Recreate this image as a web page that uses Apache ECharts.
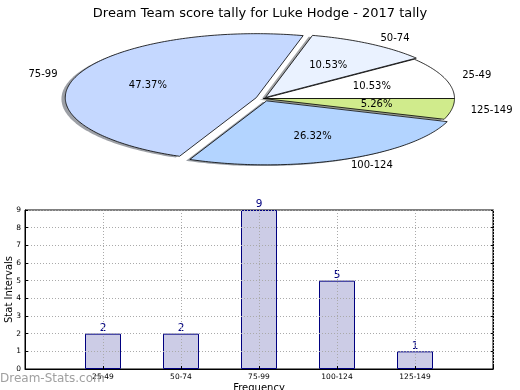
<!DOCTYPE html>
<html>
<head>
<meta charset="utf-8">
<script src="https://cdn.jsdelivr.net/npm/echarts@6/dist/echarts.min.js"></script>
<style>html,body{margin:0;padding:0;background:#fff}#c{width:520px;height:390px}</style>
</head>
<body>
<div id="c"></div>
<script>
const categories = ['25-49', '50-74', '75-99', '100-124', '125-149'];
const counts = [2, 2, 9, 5, 1];
const pieColors = ['#ffffff', '#eaf2ff', '#c5d8ff', '#b3d4ff', '#d0eb8c'];
const explode = [0, 0.02, 0.04, 0.04, 0];
const yTicks = [0, 1, 2, 3, 4, 5, 6, 7, 8, 9];

const FONT = 'DejaVu Sans';
const total = counts.reduce((a, b) => a + b, 0);
const starts = [];
let acc = 0;
counts.forEach(v => { starts.push(acc / total * 360); acc += v; });

function wedgePoints(api, i, ox, oy) {
  const a0 = starts[i], a1 = a0 + counts[i] / total * 360;
  const mid = (a0 + a1) / 2 * Math.PI / 180;
  const cx = explode[i] * Math.cos(mid) + ox, cy = explode[i] * Math.sin(mid) + oy;
  const pts = [api.coord([cx, cy])];
  const n = Math.max(2, Math.ceil(a1 - a0));
  for (let k = 0; k <= n; k++) {
    const a = (a0 + (a1 - a0) * k / n) * Math.PI / 180;
    pts.push(api.coord([cx + Math.cos(a), cy + Math.sin(a)]));
  }
  return { pts, cx, cy, mid };
}

function shade(hex) {
  const r = parseInt(hex.slice(1, 3), 16), g = parseInt(hex.slice(3, 5), 16), b = parseInt(hex.slice(5, 7), 16);
  return 'rgba(' + Math.round(r * 0.3) + ',' + Math.round(g * 0.3) + ',' + Math.round(b * 0.3) + ',0.5)';
}

const pieData = categories.map((c, i) => [i, counts[i]]);

const option = {
  animation: false,
  backgroundColor: '#fff',
  textStyle: { fontFamily: FONT },
  title: {
    text: 'Dream Team score tally for Luke Hodge - 2017 tally',
    left: 'center', top: 2,
    textStyle: { fontFamily: FONT, fontSize: 13, fontWeight: 'normal', color: '#000' }
  },
  grid: [
    { left: 5.65, width: 506.15, top: 15.3, height: 166.4, show: false, outerBoundsMode: 'none', containLabel: false },
    { left: 25, right: 27, top: 210, bottom: 21, show: true, borderColor: '#000', borderWidth: 1, backgroundColor: 'transparent', outerBoundsMode: 'none', containLabel: false }
  ],
  xAxis: [
    { gridIndex: 0, type: 'value', min: -1.35, max: 1.3, show: false },
    {
      gridIndex: 1, type: 'category', data: [''].concat(categories, ['']), boundaryGap: false, z: 3,
      name: 'Frequency', nameLocation: 'middle', nameGap: 14, nameMoveOverlap: false,
      nameTextStyle: { fontFamily: FONT, fontSize: 10, color: '#000' },
      axisLine: { lineStyle: { color: '#000', width: 1 } },
      axisTick: { inside: true, length: 3, lineStyle: { color: '#000' }, interval: 0 },
      axisLabel: { interval: 0, fontSize: 7.5, color: '#000', margin: 4, fontFamily: FONT },
      splitLine: { show: true, interval: 0, lineStyle: { color: '#aaa', type: [1, 2], width: 1 } }
    }
  ],
  yAxis: [
    { gridIndex: 0, type: 'value', min: -1.3, max: 1.3, show: false },
    {
      gridIndex: 1, type: 'value', min: yTicks[0], max: yTicks[yTicks.length - 1], interval: 1, z: 3,
      name: 'Stat Intervals', nameLocation: 'middle', nameGap: 11, nameRotate: 90, nameMoveOverlap: false,
      nameTextStyle: { fontFamily: FONT, fontSize: 10, color: '#000' },
      axisLine: { show: true, lineStyle: { color: '#000', width: 1 } },
      axisTick: { show: true, inside: true, length: 3, lineStyle: { color: '#000' } },
      axisLabel: { fontSize: 7.5, color: '#000', margin: 4, fontFamily: FONT },
      splitLine: { show: true, lineStyle: { color: '#aaa', type: [1, 2], width: 1 } }
    },
    {
      gridIndex: 1, type: 'value', position: 'right', min: yTicks[0], max: yTicks[yTicks.length - 1], interval: 1,
      axisLine: { show: true, lineStyle: { color: '#000', width: 1 } },
      axisTick: { show: true, inside: true, length: 3, lineStyle: { color: '#000' } },
      axisLabel: { show: false }, splitLine: { show: false }
    }
  ],
  series: [
    {
      type: 'custom', xAxisIndex: 0, yAxisIndex: 0, z: 1, silent: true, clip: false,
      data: pieData,
      renderItem: function (params, api) {
        const i = api.value(0);
        const w = wedgePoints(api, i, -0.02, -0.02);
        return { type: 'polygon', shape: { points: w.pts }, style: { fill: shade(pieColors[i]), stroke: null } };
      }
    },
    {
      type: 'custom', xAxisIndex: 0, yAxisIndex: 0, z: 2, silent: true, clip: false,
      data: pieData,
      renderItem: function (params, api) {
        const i = api.value(0);
        const w = wedgePoints(api, i, 0, 0);
        const lp = api.coord([w.cx + 1.1 * Math.cos(w.mid), w.cy + 1.1 * Math.sin(w.mid)]);
        const pp = api.coord([w.cx + 0.6 * Math.cos(w.mid), w.cy + 0.6 * Math.sin(w.mid)]);
        const right = Math.cos(w.mid) > 0;
        const pct = (counts[i] / total * 100).toFixed(2) + '%';
        return {
          type: 'group',
          children: [
            { type: 'polygon', shape: { points: w.pts }, style: { fill: pieColors[i], stroke: '#000', lineWidth: 0.8 } },
            { type: 'text', z2: 5, style: { text: categories[i], x: lp[0], y: lp[1], align: right ? 'left' : 'right', verticalAlign: 'middle', fontSize: 10, fontFamily: FONT, fill: '#000' } },
            { type: 'text', z2: 5, style: { text: pct, x: pp[0], y: pp[1], align: 'center', verticalAlign: 'middle', fontSize: 10, fontFamily: FONT, fill: '#000' } }
          ]
        };
      }
    },
    {
      type: 'bar', xAxisIndex: 1, yAxisIndex: 1, barWidth: 36,
      data: [null].concat(counts, [null]),
      itemStyle: { color: '#ccccE6', borderColor: '#000080', borderWidth: 1 },
      label: { show: true, position: 'top', distance: 0, color: '#000080', fontSize: 10.5, fontFamily: FONT }
    }
  ],
  graphic: [
    { type: 'text', left: 0, top: 373, z: 10, style: { text: 'Dream-Stats.com', fontSize: 12, fontFamily: FONT, fill: '#a0a0a0' } }
  ]
};

const chart = echarts.init(document.getElementById('c'), null, { renderer: 'canvas' });
chart.setOption(option);
</script>
</body>
</html>
